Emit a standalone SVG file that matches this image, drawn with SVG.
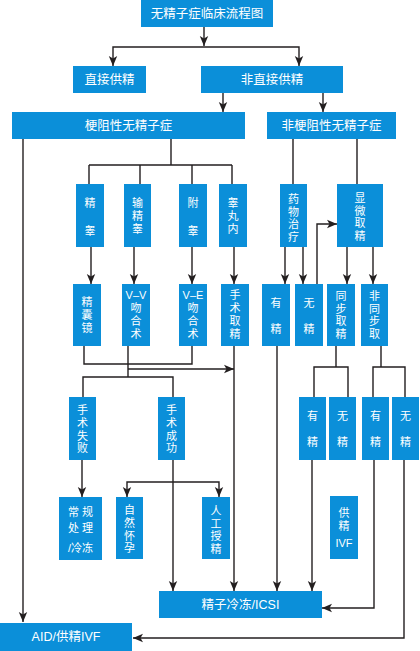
<svg xmlns="http://www.w3.org/2000/svg" width="420" height="651" viewBox="0 0 420 651">
<defs>
<style>
.b{fill:#0b8fd9;}
.t{fill:#ffffff;font-family:"Liberation Sans","Noto Sans CJK SC",sans-serif;font-size:11px;text-anchor:middle;}
.h{font-size:12.5px;}
.c{fill:none;stroke:#231f20;stroke-width:1.4;}
.a{marker-end:url(#arr);}
</style>
<marker id="arr" markerUnits="userSpaceOnUse" markerWidth="10" markerHeight="10" viewBox="0 0 10 10" refX="10" refY="5" orient="auto">
<path d="M0,0.8 L10,5 L0,9.2 L2.5,5 Z" fill="#231f20"/>
</marker>
</defs>
<rect width="420" height="651" fill="#ffffff"/>

<g id="connectors">
<path class="c a" d="M204,27 V46"/>
<path class="c a" d="M204,47 H113 V66"/>
<path class="c a" d="M204,47 H299 V66"/>
<path class="c a" d="M223,93 V112"/>
<path class="c a" d="M323,93 V112"/>
<path class="c a" d="M23,139 V622"/>
<path class="c" d="M171,139 V165 M89,165 H232 M89,165 V184 M140,165 V184 M192,165 V184 M232,165 V184"/>
<path class="c a" d="M91,247 V284"/>
<path class="c a" d="M134,247 V284"/>
<path class="c a" d="M192,247 V284"/>
<path class="c a" d="M234,247 V284"/>
<path class="c" d="M293,139 V184 M357,139 V184"/>
<path class="c a" d="M285,247 V284"/>
<path class="c a" d="M303,247 V284"/>
<path class="c a" d="M317,284 V224 H337"/>
<path class="c a" d="M347,247 V284"/>
<path class="c a" d="M373,247 V284"/>
<path class="c" d="M84,346 V364 H192 V346"/>
<path class="c" d="M128,346 V377"/>
<path class="c a" d="M128,369 H234"/>
<path class="c" d="M83,397 V377 H173 V397"/>
<path class="c a" d="M234,346 V591"/>
<path class="c a" d="M82,460 V497"/>
<path class="c a" d="M173,460 V591"/>
<path class="c a" d="M173,482 H127 V497"/>
<path class="c a" d="M173,482 H219 V497"/>
<path class="c a" d="M277,346 V591"/>
<path class="c" d="M336,346 V367 M314,397 V367 H348 V397"/>
<path class="c" d="M381,346 V367 M373,397 V367 H405 V397"/>
<path class="c a" d="M312,460 V591"/>
<path class="c a" d="M374,460 V608 H322"/>
<path class="c a" d="M404,460 V638 H133"/>
</g>

<g id="n-title"><rect class="b" x="141" y="0" width="132" height="27"/><text class="t h" x="207" y="18">无精子症临床流程图</text></g>
<g id="n-direct"><rect class="b" x="73" y="66" width="73" height="27"/><text class="t h" x="109.5" y="84">直接供精</text></g>
<g id="n-indirect"><rect class="b" x="201" y="66" width="142" height="27"/><text class="t h" x="272" y="84">非直接供精</text></g>
<g id="n-obstructive"><rect class="b" x="12" y="112" width="233" height="27"/><text class="t h" x="128.5" y="130">梗阻性无精子症</text></g>
<g id="n-nonobstructive"><rect class="b" x="267" y="112" width="129" height="27"/><text class="t h" x="331.5" y="130">非梗阻性无精子症</text></g>

<g id="n-jinggao"><rect class="b" x="76" y="184" width="28" height="63"/><text class="t" x="90" y="207">精</text><text class="t" x="90" y="235">睾</text></g>
<g id="n-shujinggao"><rect class="b" x="124" y="184" width="27" height="63"/><text class="t" x="137.5" y="207">输</text><text class="t" x="137.5" y="220">精</text><text class="t" x="137.5" y="233">睾</text></g>
<g id="n-fugao"><rect class="b" x="179" y="184" width="28" height="63"/><text class="t" x="193" y="207">附</text><text class="t" x="193" y="235">睾</text></g>
<g id="n-gaowannei"><rect class="b" x="219" y="184" width="28" height="63"/><text class="t" x="233" y="207">睾</text><text class="t" x="233" y="220">丸</text><text class="t" x="233" y="233">内</text></g>
<g id="n-drug"><rect class="b" x="280" y="184" width="27" height="63"/><text class="t" x="293.5" y="203">药</text><text class="t" x="293.5" y="215.5">物</text><text class="t" x="293.5" y="228">治</text><text class="t" x="293.5" y="240.5">疗</text></g>
<g id="n-micro"><rect class="b" x="337" y="184" width="46" height="63"/><text class="t" x="360" y="202">显</text><text class="t" x="360" y="214.5">微</text><text class="t" x="360" y="227">取</text><text class="t" x="360" y="239.5">精</text></g>

<g id="n-jingnangjing"><rect class="b" x="73" y="284" width="28" height="62"/><text class="t" x="87" y="306">精</text><text class="t" x="87" y="319">囊</text><text class="t" x="87" y="332">镜</text></g>
<g id="n-vv"><rect class="b" x="122" y="284" width="28" height="62"/><text class="t" x="136" y="299">V–V</text><text class="t" x="136" y="312">吻</text><text class="t" x="136" y="325">合</text><text class="t" x="136" y="338">术</text></g>
<g id="n-ve"><rect class="b" x="179" y="284" width="28" height="62"/><text class="t" x="193" y="299">V–E</text><text class="t" x="193" y="312">吻</text><text class="t" x="193" y="325">合</text><text class="t" x="193" y="338">术</text></g>
<g id="n-surgical"><rect class="b" x="221" y="284" width="28" height="62"/><text class="t" x="235" y="299">手</text><text class="t" x="235" y="312">术</text><text class="t" x="235" y="325">取</text><text class="t" x="235" y="338">精</text></g>
<g id="n-yj1"><rect class="b" x="262" y="284" width="28" height="62"/><text class="t" x="276" y="307">有</text><text class="t" x="276" y="333">精</text></g>
<g id="n-wj1"><rect class="b" x="295" y="284" width="28" height="62"/><text class="t" x="309" y="307">无</text><text class="t" x="309" y="333">精</text></g>
<g id="n-sync"><rect class="b" x="327" y="284" width="28" height="62"/><text class="t" x="341" y="300">同</text><text class="t" x="341" y="312.5">步</text><text class="t" x="341" y="325">取</text><text class="t" x="341" y="338">精</text></g>
<g id="n-async"><rect class="b" x="361" y="284" width="27" height="62"/><text class="t" x="374.5" y="300">非</text><text class="t" x="374.5" y="312.5">同</text><text class="t" x="374.5" y="325">步</text><text class="t" x="374.5" y="338">取</text></g>

<g id="n-fail"><rect class="b" x="69" y="397" width="27" height="63"/><text class="t" x="82.5" y="414">手</text><text class="t" x="82.5" y="427">术</text><text class="t" x="82.5" y="439.5">失</text><text class="t" x="82.5" y="452">败</text></g>
<g id="n-success"><rect class="b" x="158" y="397" width="27" height="63"/><text class="t" x="171.5" y="414">手</text><text class="t" x="171.5" y="427">术</text><text class="t" x="171.5" y="439.5">成</text><text class="t" x="171.5" y="452">功</text></g>
<g id="n-yj2"><rect class="b" x="299" y="397" width="27" height="63"/><text class="t" x="312.5" y="420">有</text><text class="t" x="312.5" y="446">精</text></g>
<g id="n-wj2"><rect class="b" x="329" y="397" width="27" height="63"/><text class="t" x="342.5" y="420">无</text><text class="t" x="342.5" y="446">精</text></g>
<g id="n-yj3"><rect class="b" x="362" y="397" width="27" height="63"/><text class="t" x="375.5" y="420">有</text><text class="t" x="375.5" y="446">精</text></g>
<g id="n-wj3"><rect class="b" x="392" y="397" width="27" height="63"/><text class="t" x="405.5" y="420">无</text><text class="t" x="405.5" y="446">精</text></g>

<g id="n-conventional"><rect class="b" x="59" y="497" width="43" height="63"/><text class="t" x="80.5" y="516">常 规</text><text class="t" x="80.5" y="532">处 理</text><text class="t" x="80.5" y="552">/冷冻</text></g>
<g id="n-natural"><rect class="b" x="116" y="497" width="27" height="62"/><text class="t" x="129.5" y="514">自</text><text class="t" x="129.5" y="527">然</text><text class="t" x="129.5" y="539.5">怀</text><text class="t" x="129.5" y="552">孕</text></g>
<g id="n-ai"><rect class="b" x="202" y="497" width="28" height="62"/><text class="t" x="216" y="515">人</text><text class="t" x="216" y="527.5">工</text><text class="t" x="216" y="540">授</text><text class="t" x="216" y="552.5">精</text></g>
<g id="n-donorivf"><rect class="b" x="330" y="496" width="28" height="63"/><text class="t" x="344" y="517">供</text><text class="t" x="344" y="530">精</text><text class="t" x="344" y="547">IVF</text></g>

<g id="n-icsi"><rect class="b" x="159" y="591" width="163" height="27"/><text class="t h" x="240.5" y="609">精子冷冻/ICSI</text></g>
<g id="n-aid"><rect class="b" x="0" y="623" width="132" height="28"/><text class="t h" x="66" y="641">AID/供精IVF</text></g>
</svg>
